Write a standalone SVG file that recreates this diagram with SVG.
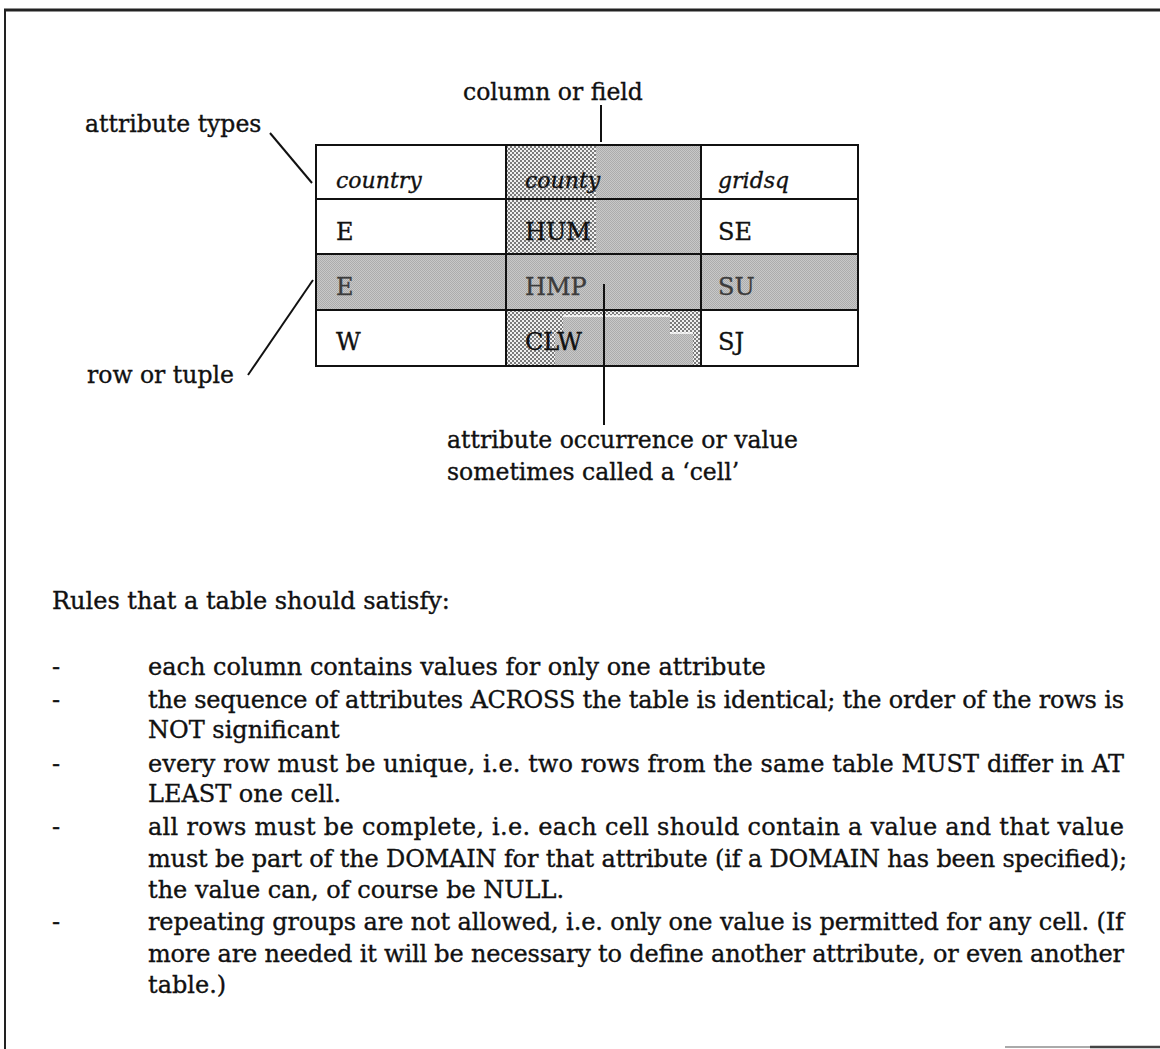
<svg xmlns="http://www.w3.org/2000/svg" width="1160" height="1049" viewBox="0 0 1160 1049">
<defs>
<pattern id="coarse" width="4" height="4" patternUnits="userSpaceOnUse"><rect width="4" height="4" fill="#f0f0f0"/><rect x="0" y="0" width="2" height="2" fill="#7a7a7a"/><rect x="2" y="2" width="2" height="2" fill="#7a7a7a"/></pattern>
<pattern id="fine" width="2" height="2" patternUnits="userSpaceOnUse"><rect width="2" height="2" fill="#c8c8c8"/><rect x="0" y="0" width="1" height="1" fill="#acacac"/><rect x="1" y="1" width="1" height="1" fill="#acacac"/></pattern>
</defs>
<style>
text{font-family:"DejaVu Serif","Liberation Serif",serif;fill:#111;stroke:#111;stroke-width:0.35}
.lbl{font-size:23.5px}
.body{font-size:24px}
.cell{font-size:24px}
.hdr{font-size:22px;font-style:italic}
.dim{fill:#3c3c3c;stroke:#3c3c3c}
.ln{stroke:#111;stroke-width:2;fill:none}
.grid{stroke:#111;stroke-width:2;fill:none}
</style>
<rect width="1160" height="1049" fill="#ffffff"/>
<g id="frame">
<line x1="4" y1="10" x2="1160" y2="10" stroke="#222" stroke-width="3"/>
<line x1="5" y1="9" x2="5" y2="1049" stroke="#222" stroke-width="2"/>
<line x1="1005" y1="1047" x2="1090" y2="1047" stroke="#aaa" stroke-width="2"/>
<line x1="1090" y1="1047" x2="1160" y2="1047" stroke="#444" stroke-width="2.5"/>
</g>
<g id="table">
<rect x="316" y="145" width="542" height="221" fill="#fff"/>
<rect x="506" y="145" width="90" height="109" fill="url(#coarse)"/>
<rect x="596" y="145" width="105" height="109" fill="url(#fine)"/>
<rect x="316" y="254" width="542" height="56" fill="url(#fine)"/>
<rect x="506" y="310" width="195" height="56" fill="url(#coarse)"/>
<polygon points="563,317 670,317 670,333 693,333 693,367 555,367 555,333 563,333" fill="url(#fine)"/>
<line x1="563" y1="316" x2="670" y2="316" stroke="#fff" stroke-width="1.5"/>
<line x1="670" y1="333" x2="693" y2="333" stroke="#fff" stroke-width="1.5"/>
<rect x="316" y="145" width="542" height="221" class="grid"/>
<line class="grid" x1="316" y1="199" x2="858" y2="199"/>
<line class="grid" x1="316" y1="254" x2="858" y2="254"/>
<line class="grid" x1="316" y1="310" x2="858" y2="310"/>
<line class="grid" x1="506" y1="145" x2="506" y2="366"/>
<line class="grid" x1="701" y1="145" x2="701" y2="366"/>
<text class="hdr" x="336" y="188">country</text>
<text class="hdr" x="525" y="188">county</text>
<text class="hdr" x="718" y="188">gridsq</text>
<text class="cell" x="336" y="240">E</text>
<text class="cell" x="525" y="240">HUM</text>
<text class="cell" x="718" y="240">SE</text>
<text class="cell dim" x="336" y="295">E</text>
<text class="cell dim" x="525" y="295">HMP</text>
<text class="cell dim" x="718" y="295">SU</text>
<text class="cell" x="336" y="350">W</text>
<text class="cell" x="525" y="350">CLW</text>
<text class="cell" x="718" y="350">SJ</text>
</g>
<g id="labels">
<text class="lbl" x="463" y="100">column or field</text>
<text class="lbl" x="85" y="132">attribute types</text>
<text class="lbl" x="87" y="383">row or tuple</text>
<text class="lbl" x="447" y="448">attribute occurrence or value</text>
<text class="lbl" x="447" y="480">sometimes called a ‘cell’</text>
</g>
<g id="connectors">
<line class="ln" x1="601" y1="105" x2="601" y2="142"/>
<line class="ln" x1="270" y1="133" x2="312" y2="183"/>
<line class="ln" x1="248" y1="375" x2="313" y2="280"/>
<line class="ln" x1="604" y1="284" x2="604" y2="425"/>
</g>
<g id="rules">
<text class="body" x="52" y="609">Rules that a table should satisfy:</text>
<text class="body" x="52" y="675">-</text>
<text class="body" x="148" y="675">each column contains values for only one attribute</text>
<text class="body" x="52" y="708">-</text>
<text class="body" x="148" y="708" textLength="976" lengthAdjust="spacing">the sequence of attributes ACROSS the table is identical; the order of the rows is</text>
<text class="body" x="148" y="738">NOT significant</text>
<text class="body" x="52" y="772">-</text>
<text class="body" x="148" y="772" textLength="976" lengthAdjust="spacing">every row must be unique, i.e. two rows from the same table MUST differ in AT</text>
<text class="body" x="148" y="802">LEAST one cell.</text>
<text class="body" x="52" y="835">-</text>
<text class="body" x="148" y="835" textLength="976" lengthAdjust="spacing">all rows must be complete, i.e. each cell should contain a value and that value</text>
<text class="body" x="148" y="867" textLength="979" lengthAdjust="spacing">must be part of the DOMAIN for that attribute (if a DOMAIN has been specified);</text>
<text class="body" x="148" y="898">the value can, of course be NULL.</text>
<text class="body" x="52" y="930">-</text>
<text class="body" x="148" y="930" textLength="976" lengthAdjust="spacing">repeating groups are not allowed, i.e. only one value is permitted for any cell. (If</text>
<text class="body" x="148" y="962" textLength="976" lengthAdjust="spacing">more are needed it will be necessary to define another attribute, or even another</text>
<text class="body" x="148" y="993">table.)</text>
</g>
</svg>
